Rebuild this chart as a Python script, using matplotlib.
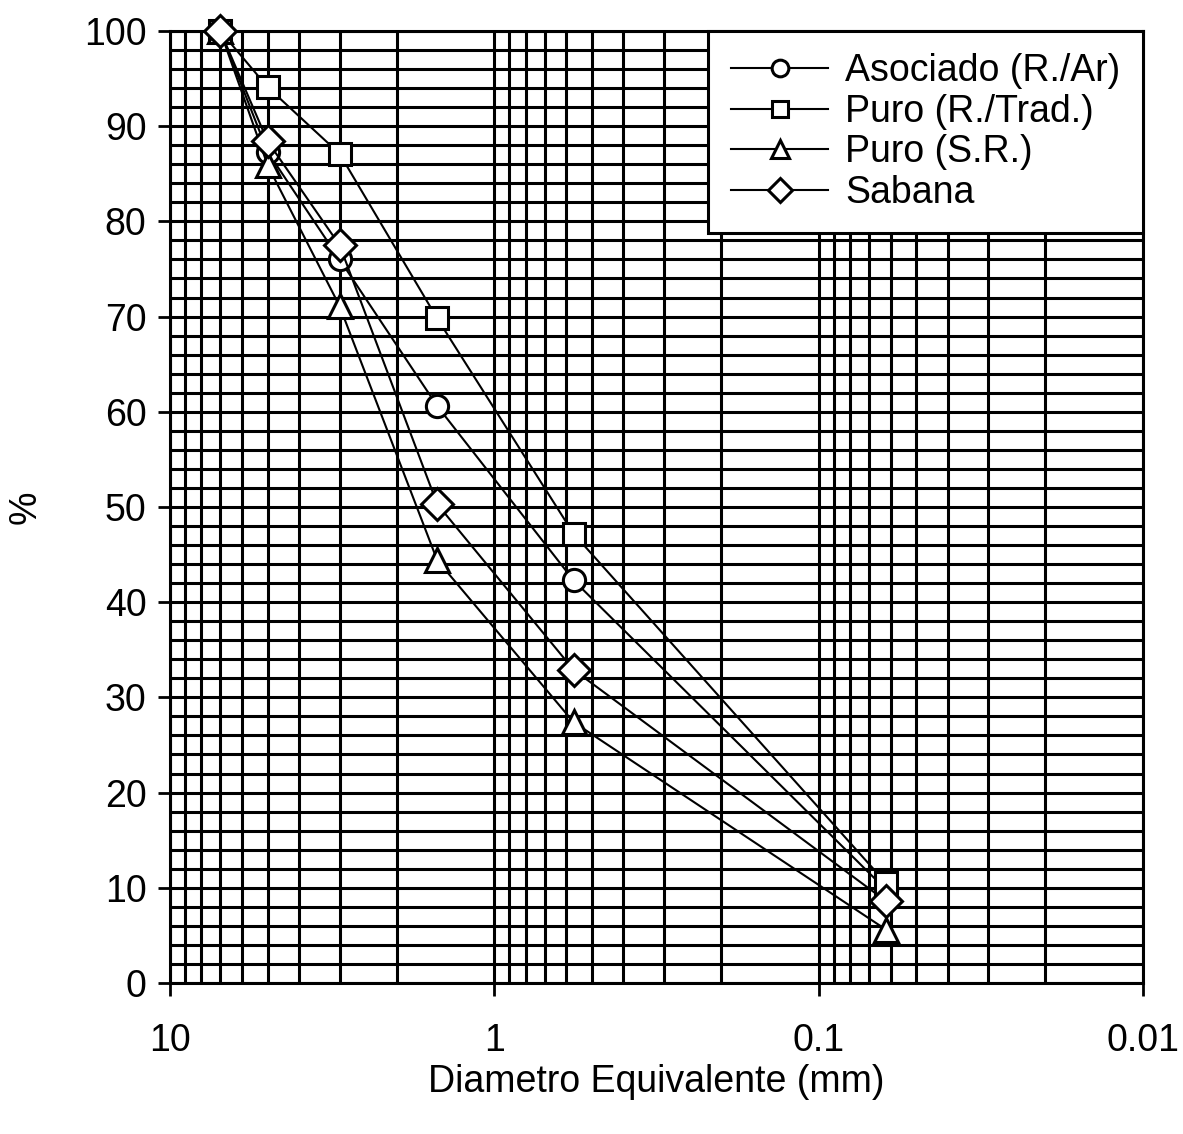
import numpy as np
import matplotlib.pyplot as plt
from matplotlib.ticker import FixedLocator, LogLocator, NullFormatter

plt.rcParams['font.family'] = ['Liberation Sans', 'DejaVu Sans']

# Diámetros (mm) y porcentajes
diam = [7.0, 5.0, 3.0, 1.5, 0.57, 0.062]
asociado = [100, 87.3, 76, 60.6, 42.3, 9.8]
puro_trad = [100, 94.1, 87.1, 69.8, 47.2, 10.5]
puro_sr = [100, 85.9, 71.1, 44.4, 27.4, 5.6]
sabana = [100, 88.4, 77.5, 50.3, 32.9, 8.6]

series = [
    (asociado, 'o', 16, 'Asociado (R./Ar)'),
    (puro_trad, 's', 16, 'Puro (R./Trad.)'),
    (puro_sr, '^', 17, 'Puro (S.R.)'),
    (sabana, 'D', 16, 'Sabana'),
]

fig = plt.figure(figsize=(11.83, 11.34), dpi=100)
ax = fig.add_axes([0.1437, 0.1332, 0.8225, 0.8395])

for vals, mk, ms, lab in series:
    ax.plot(diam, vals, color='black', linewidth=1.5, marker=mk, markersize=ms,
            markerfacecolor='white', markeredgecolor='black', markeredgewidth=2.2,
            label=lab, clip_on=False, zorder=5)

ax.set_xscale('log')
ax.set_xlim(10, 0.01)
ax.set_ylim(0, 100)

ax.xaxis.set_major_locator(FixedLocator([10, 1, 0.1, 0.01]))
ax.set_xticklabels(['10', '1', '0.1', '0.01'])
ax.xaxis.set_minor_locator(LogLocator(base=10, subs=np.arange(2, 10)))
ax.xaxis.set_minor_formatter(NullFormatter())
ax.set_yticks(np.arange(0, 101, 10))
ax.set_yticks(np.arange(0, 101, 2), minor=True)

ax.grid(True, which='both', color='black', linewidth=2.2)
ax.tick_params(axis='both', which='major', labelsize=27, direction='out',
               length=9, width=2, pad=8)
ax.tick_params(axis='x', which='major', pad=20)
ax.tick_params(axis='x', which='minor', length=0)
ax.tick_params(axis='y', which='minor', length=0)
for s in ax.spines.values():
    s.set_linewidth(2.2)

ax.set_xlabel('Diametro Equivalente (mm)', fontsize=27)
ax.xaxis.set_label_coords(0.5, -0.085)
ax.set_ylabel('%', fontsize=27)
ax.yaxis.set_label_coords(-0.13, 0.5)

leg = ax.legend(loc='upper right', fontsize=27, frameon=True, fancybox=False,
                edgecolor='black', framealpha=1, handlelength=2.6,
                borderaxespad=0, labelspacing=0.12, handletextpad=0.45,
                borderpad=0.6, markerscale=0.75)
leg.get_frame().set_linewidth(2.2)
leg.set_zorder(10)

fig.savefig('out.png', dpi=100)
